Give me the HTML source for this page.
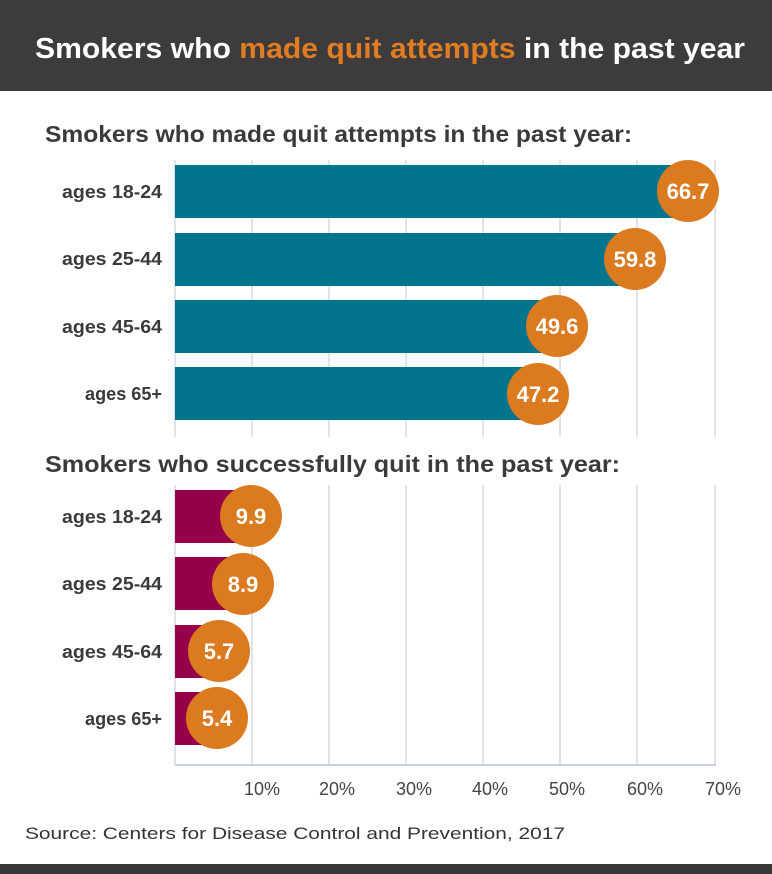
<!DOCTYPE html>
<html><head><meta charset="utf-8"><style>
html,body{margin:0;padding:0;background:#fff;}
svg{display:block;}
text{font-family:"Liberation Sans",sans-serif;}
</style></head><body>
<svg width="772" height="874" viewBox="0 0 772 874" xmlns="http://www.w3.org/2000/svg">
<rect x="0" y="0" width="772" height="91" fill="#3d3b3c"/>
<text x="35" y="58" font-size="29" font-weight="bold" fill="#fff" textLength="710" lengthAdjust="spacingAndGlyphs">Smokers who <tspan fill="#e07d22">made quit attempts</tspan> in the past year</text>
<text x="45" y="142" font-size="23" font-weight="bold" fill="#3a3a3a" textLength="587" lengthAdjust="spacingAndGlyphs">Smokers who made quit attempts in the past year:</text>
<text x="45" y="472" font-size="23" font-weight="bold" fill="#3a3a3a" textLength="575" lengthAdjust="spacingAndGlyphs">Smokers who successfully quit in the past year:</text>
<g stroke="#d3dbe1" stroke-width="1.5">
<line x1="175" y1="160" x2="175" y2="437"/>
<line x1="252" y1="160" x2="252" y2="437"/><line x1="329" y1="160" x2="329" y2="437"/><line x1="406" y1="160" x2="406" y2="437"/><line x1="483" y1="160" x2="483" y2="437"/><line x1="560" y1="160" x2="560" y2="437"/><line x1="637" y1="160" x2="637" y2="437"/><line x1="715" y1="160" x2="715" y2="437"/>
<line x1="175" y1="485" x2="175" y2="765"/>
<line x1="252" y1="485" x2="252" y2="765"/><line x1="329" y1="485" x2="329" y2="765"/><line x1="406" y1="485" x2="406" y2="765"/><line x1="483" y1="485" x2="483" y2="765"/><line x1="560" y1="485" x2="560" y2="765"/><line x1="637" y1="485" x2="637" y2="765"/><line x1="715" y1="485" x2="715" y2="765"/>
</g>
<line x1="175" y1="765" x2="716" y2="765" stroke="#c9d2da" stroke-width="2"/>
<g fill="#00758d">
<rect x="175" y="165" width="513" height="53"/>
<rect x="175" y="233" width="460" height="53"/>
<rect x="175" y="300" width="382" height="53"/>
<rect x="175" y="367" width="363" height="53"/>
</g>
<g fill="#960048">
<rect x="175" y="490" width="76" height="53"/>
<rect x="175" y="557" width="68" height="53"/>
<rect x="175" y="625" width="44" height="53"/>
<rect x="175" y="692" width="42" height="53"/>
</g>
<g fill="#db7a1f">
<circle cx="688" cy="191" r="31"/><circle cx="635" cy="259" r="31"/><circle cx="557" cy="326" r="31"/><circle cx="538" cy="394" r="31"/>
<circle cx="251" cy="516" r="31"/><circle cx="243" cy="584" r="31"/><circle cx="219" cy="651" r="31"/><circle cx="217" cy="718" r="31"/>
</g>
<g fill="#fff" font-size="22" font-weight="bold" text-anchor="middle">
<text x="688" y="199">66.7</text><text x="635" y="267">59.8</text><text x="557" y="334">49.6</text><text x="538" y="402">47.2</text>
<text x="251" y="524">9.9</text><text x="243" y="592">8.9</text><text x="219" y="659">5.7</text><text x="217" y="726">5.4</text>
</g>
<g fill="#3a3a3a" font-size="18" font-weight="bold" lengthAdjust="spacingAndGlyphs">
<text x="62" y="198" textLength="100" lengthAdjust="spacingAndGlyphs">ages 18-24</text><text x="62" y="265" textLength="100" lengthAdjust="spacingAndGlyphs">ages 25-44</text><text x="62" y="333" textLength="100" lengthAdjust="spacingAndGlyphs">ages 45-64</text><text x="85" y="400" textLength="77" lengthAdjust="spacingAndGlyphs">ages 65+</text>
<text x="62" y="523" textLength="100" lengthAdjust="spacingAndGlyphs">ages 18-24</text><text x="62" y="590" textLength="100" lengthAdjust="spacingAndGlyphs">ages 25-44</text><text x="62" y="658" textLength="100" lengthAdjust="spacingAndGlyphs">ages 45-64</text><text x="85" y="725" textLength="77" lengthAdjust="spacingAndGlyphs">ages 65+</text>
</g>
<g fill="#444" font-size="18" text-anchor="middle">
<text x="262" y="795">10%</text><text x="337" y="795">20%</text><text x="414" y="795">30%</text><text x="490" y="795">40%</text><text x="567" y="795">50%</text><text x="645" y="795">60%</text><text x="723" y="795">70%</text>
</g>
<text x="25" y="839" font-size="17" fill="#333" textLength="540" lengthAdjust="spacingAndGlyphs">Source: Centers for Disease Control and Prevention, 2017</text>
<rect x="0" y="864" width="772" height="10" fill="#3a3939"/>
</svg>
</body></html>
